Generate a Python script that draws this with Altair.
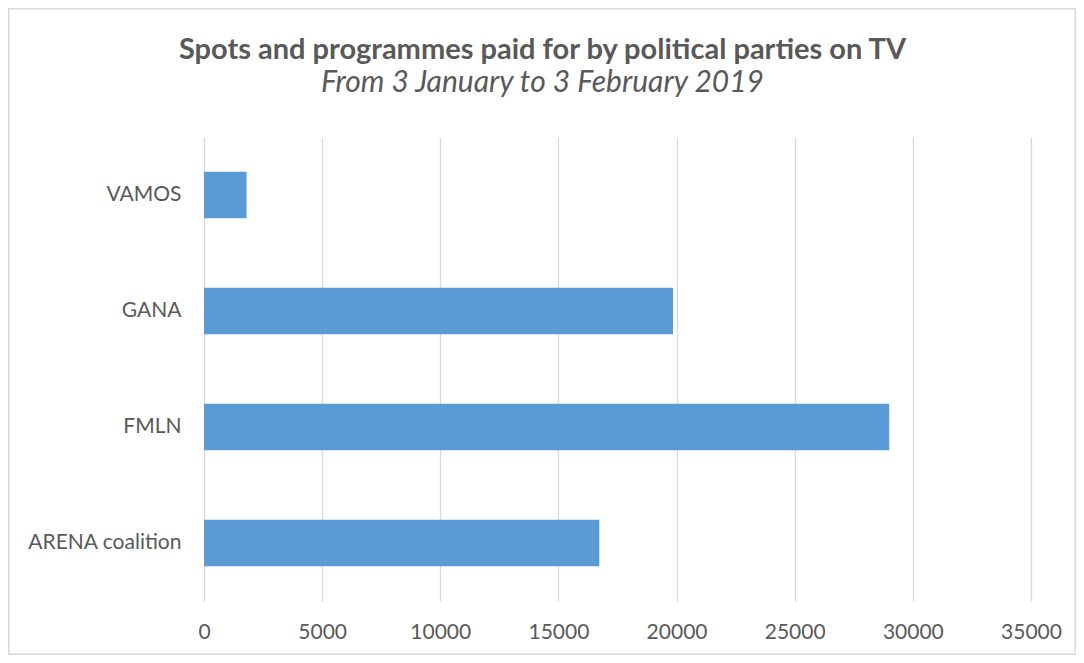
import altair as alt
import pandas as pd

parties = ["VAMOS", "GANA", "FMLN", "ARENA coalition"]
spots = [1800, 19850, 29000, 16730]
tick_values = [0, 5000, 10000, 15000, 20000, 25000, 30000, 35000]

df = pd.DataFrame({"party": parties, "spots": spots})

W, H = 827, 464
PL, PT, PR, PB = 196, 129, 45, 54
TEXT = "#595959"
GRID = "#d9d9d9"

bars = alt.Chart(df).mark_bar(color="#5B9BD5").encode(
    x=alt.X("spots:Q",
            scale=alt.Scale(domain=[0, 35000], nice=False),
            axis=alt.Axis(values=tick_values, title=None, domain=False, ticks=False,
                          grid=True, gridColor=GRID, gridWidth=1.3,
                          labelFont="Lato", labelFontSize=21, labelColor=TEXT,
                          labelPadding=20, labelFlush=False, format="d")),
    y=alt.Y("party:N", sort=parties,
            scale=alt.Scale(paddingInner=0.6, paddingOuter=0.3),
            axis=alt.Axis(title=None, domain=False, ticks=False, grid=False,
                          labelFont="Lato", labelFontSize=21, labelColor=TEXT,
                          labelPadding=23)),
)

border = alt.Chart(pd.DataFrame({"a": [0]})).mark_rect(
    filled=False, stroke=GRID, strokeWidth=1.5
).encode(
    x=alt.value(-PL + 0.75), x2=alt.value(W + PR - 0.75),
    y=alt.value(-PT + 0.75), y2=alt.value(H + PB - 0.75),
)

chart = alt.layer(border, bars).properties(
    width=W, height=H,
    autosize=alt.AutoSizeParams(type="none"),
    padding={"left": PL, "top": PT, "right": PR, "bottom": PB},
    background="white",
    title=alt.TitleParams(
        text="Spots and programmes paid for by political parties on TV",
        subtitle="From 3 January to 3 February 2019",
        font="Lato", fontSize=29, fontWeight="bold", color=TEXT,
        subtitleFont="Lato", subtitleFontSize=30, subtitleFontStyle="italic",
        subtitleColor=TEXT, subtitlePadding=3,
        anchor="middle", dx=-75, offset=-90,
    ),
).configure_view(stroke=None)

chart.save("out.html", embed_options={"renderer": "svg", "actions": False})
